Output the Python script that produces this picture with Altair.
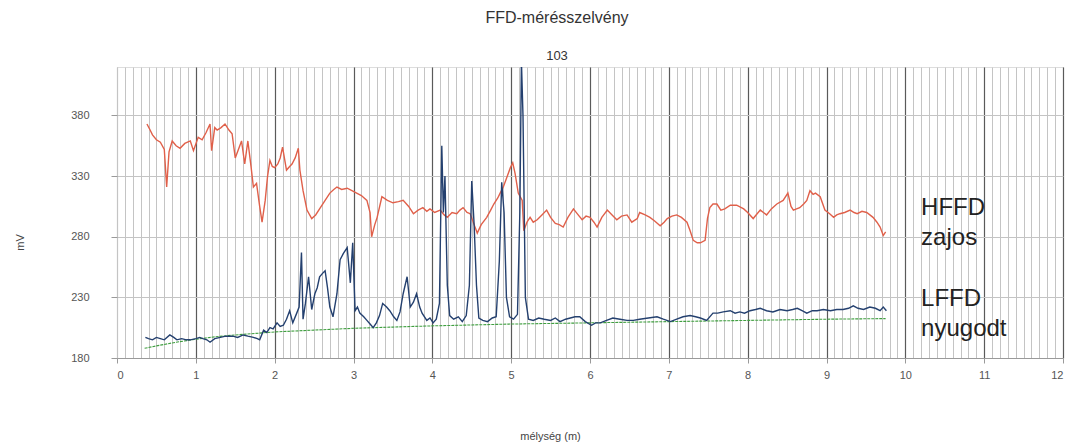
import altair as alt
import pandas as pd

# HFFD (noisy) series
hffd_x = [0.38, 0.42, 0.45, 0.5, 0.55, 0.6, 0.63, 0.66, 0.7, 0.75, 0.8, 0.86, 0.93, 0.97, 1.03, 1.08, 1.13, 1.18, 1.2, 1.24,
          1.27, 1.32, 1.37, 1.42, 1.46, 1.5, 1.54, 1.58, 1.62, 1.66, 1.7, 1.73, 1.77, 1.81, 1.84, 1.88, 1.91, 1.94, 1.97, 2.0,
          2.04, 2.07, 2.1, 2.15, 2.19, 2.22, 2.26, 2.3, 2.32, 2.36, 2.41, 2.47, 2.52, 2.58, 2.64, 2.7, 2.75, 2.79, 2.85, 2.92,
          2.98, 3.04, 3.1, 3.17, 3.21, 3.23, 3.27, 3.3, 3.36, 3.43, 3.5, 3.57, 3.63, 3.7, 3.76, 3.82, 3.88, 3.93, 3.97, 4.03,
          4.1, 4.15, 4.19, 4.25, 4.31, 4.35, 4.39, 4.44, 4.48, 4.53, 4.57, 4.62, 4.69, 4.74, 4.78, 4.83, 4.86, 4.9, 4.94, 4.99,
          5.02, 5.05, 5.09, 5.14, 5.16, 5.2, 5.24, 5.28, 5.33, 5.39, 5.45, 5.5, 5.56, 5.61, 5.66, 5.72, 5.79, 5.85, 5.9, 5.95,
          6.0, 6.05, 6.09, 6.15, 6.22, 6.28, 6.34, 6.4, 6.47, 6.53, 6.6, 6.63, 6.7, 6.76, 6.82, 6.89, 6.94, 6.98, 7.04, 7.1,
          7.16, 7.23, 7.27, 7.31, 7.36, 7.4, 7.46, 7.49, 7.52, 7.56, 7.61, 7.66, 7.71, 7.78, 7.86, 7.95, 8.0, 8.07, 8.12, 8.16,
          8.2, 8.24, 8.3, 8.37, 8.45, 8.51, 8.55, 8.58, 8.62, 8.66, 8.71, 8.75, 8.79, 8.83, 8.86, 8.92, 8.98, 9.04, 9.09, 9.13,
          9.17, 9.23, 9.3, 9.35, 9.39, 9.45, 9.51, 9.55, 9.59, 9.64, 9.68, 9.72, 9.75]
hffd_v = [373, 368, 364, 360, 358, 352, 321, 350, 359, 355, 353, 357, 359, 351, 362, 360, 366, 373, 351, 370,
          368, 370, 373, 368, 365, 345, 352, 359, 340, 359, 338, 321, 324, 305, 292, 310, 330, 343, 338, 337,
          340, 345, 354, 335, 338, 340, 345, 353, 335, 318, 302, 295, 298, 304, 310, 316, 319, 321, 319, 320,
          318, 316, 314, 310, 300, 280, 290, 296, 313, 310, 308, 309, 310, 305, 299, 302, 304, 301, 303, 300,
          302, 298, 296, 300, 299, 302, 304, 300, 299, 290, 283, 290, 296, 302, 307, 312, 316, 321, 328, 337,
          341, 332, 316, 310, 285, 292, 296, 292, 294, 298, 302, 296, 291, 290, 288, 296, 303, 298, 294, 297,
          296, 292, 288, 296, 302, 298, 294, 297, 298, 292, 295, 300, 298, 296, 293, 289, 292, 295, 297, 298,
          296, 292, 285, 277, 275, 275, 277, 295, 304, 307, 307, 302, 303, 306, 306, 303, 300, 295, 299, 302,
          300, 298, 303, 307, 310, 316, 305, 302, 303, 304, 307, 310, 318, 315, 316, 313, 302, 299, 296, 298,
          299, 300, 302, 300, 299, 301, 300, 298, 296, 292, 288, 281, 284]

# LFFD (calm) series
lffd_x = [0.36, 0.4, 0.45, 0.5, 0.55, 0.6, 0.67, 0.72, 0.76, 0.82, 0.88, 0.93, 1.0, 1.05, 1.09, 1.14, 1.18, 1.24, 1.31, 1.38,
          1.47, 1.53, 1.6, 1.66, 1.73, 1.78, 1.81, 1.86, 1.9, 1.94, 1.98, 2.03, 2.07, 2.11, 2.15, 2.19, 2.23, 2.28, 2.31, 2.34,
          2.36, 2.39, 2.43, 2.47, 2.51, 2.54, 2.57, 2.61, 2.64, 2.67, 2.7, 2.74, 2.79, 2.83, 2.87, 2.92, 2.96, 2.99, 3.02, 3.05,
          3.08, 3.13, 3.17, 3.21, 3.25, 3.29, 3.33, 3.37, 3.42, 3.46, 3.51, 3.55, 3.59, 3.63, 3.68, 3.72, 3.76, 3.8, 3.84, 3.87,
          3.93, 3.97, 4.01, 4.05, 4.09, 4.12, 4.14, 4.16, 4.19, 4.22, 4.27, 4.33, 4.38, 4.43, 4.47, 4.5, 4.53, 4.56, 4.59, 4.64,
          4.7, 4.76, 4.81, 4.85, 4.88, 4.91, 4.94, 4.98, 5.03, 5.08, 5.11, 5.13, 5.15, 5.18, 5.22, 5.28, 5.35, 5.42, 5.5, 5.56,
          5.62, 5.69, 5.75, 5.81, 5.87, 5.94, 6.02, 6.07, 6.13, 6.21, 6.29, 6.38, 6.47, 6.55, 6.63, 6.74, 6.85, 6.93, 7.02, 7.1,
          7.18, 7.27, 7.34, 7.4, 7.48, 7.56, 7.62, 7.69, 7.78, 7.84, 7.9, 7.96, 8.03, 8.1, 8.16, 8.24, 8.32, 8.41, 8.5, 8.57,
          8.63, 8.69, 8.75, 8.82, 8.88, 8.96, 9.05, 9.13, 9.21, 9.28, 9.34, 9.4, 9.47, 9.55, 9.62, 9.68, 9.72, 9.76]
lffd_v = [197, 196, 195, 197, 196, 195, 199, 197, 195, 196, 195, 195, 196, 197, 196, 195, 193, 196, 197, 198,
          198, 197, 199, 198, 197, 196, 195, 203, 201, 205, 204, 209, 206, 207, 212, 219, 209, 217, 222, 267,
          212, 225, 247, 220, 233, 238, 247, 250, 252, 238, 222, 214, 233, 261, 266, 271, 242, 275, 219, 222,
          217, 214, 211, 208, 205, 209, 215, 225, 222, 219, 214, 211, 218, 233, 247, 222, 226, 233, 222, 217,
          211, 213, 209, 212, 225, 355, 300, 330, 240, 215, 212, 214, 210, 215, 240, 326, 290, 240, 213, 211,
          210, 213, 214, 260, 325, 300, 230, 214, 212, 216, 300, 425, 380, 230, 212, 211, 213, 212, 211, 213,
          210, 212, 213, 214, 214, 210, 207, 209, 209, 211, 213, 212, 211, 211, 212, 213, 214, 212, 210, 212,
          214, 215, 214, 213, 211, 217, 217, 218, 219, 217, 218, 217, 219, 220, 221, 219, 218, 220, 219, 220,
          221, 219, 217, 219, 219, 220, 219, 220, 220, 221, 223, 221, 220, 222, 221, 219, 222, 219]

# Trend (baseline) line
trend_x = [0.35, 0.5, 0.75, 1.0, 1.25, 1.5, 2.0, 2.5, 3.0, 3.5, 4.0, 5.0, 6.0, 7.0, 8.0, 9.0, 9.75]
trend_v = [188, 190, 193, 195.5, 197.5, 199, 201.5, 203, 204.5, 205.5, 206.5, 208, 209, 210, 211, 212, 212.5]

# Annotation texts
note_text = ["HFFD\nzajos", "LFFD\nnyugodt"]
note_x = [10.2, 10.2]
note_v = [304, 229]

x_labels = list(range(0, 13))
y_labels = [180, 230, 280, 330, 380]
minor_ticks = [round(i * 0.1, 1) for i in range(0, 121)]

hffd = pd.DataFrame({"x": hffd_x, "v": hffd_v})
lffd = pd.DataFrame({"x": lffd_x, "v": lffd_v})
trend = pd.DataFrame({"x": trend_x, "v": trend_v})
notes = pd.DataFrame({"x": note_x, "v": note_v, "t": note_text})

FONT = "Liberation Sans Narrow, Liberation Sans, Arial, sans-serif"
xscale = alt.Scale(domain=[0, 12], nice=False, zero=False)
yscale = alt.Scale(domain=[180, 420], nice=False, zero=False)

minor_axis = alt.Axis(orient="top", values=minor_ticks, grid=True, gridColor="#c4c4c4", gridWidth=1,
                      labels=False, ticks=False, domain=False, title=None)
major_axis = alt.Axis(values=x_labels, grid=True,
                      gridColor={"condition": {"test": "datum.value === 0", "value": "#c4c4c4"}, "value": "#5a5a5a"},
                      gridWidth=1.2, labelFont=FONT, labelFontSize=11, labelColor="#555555",
                      labelPadding=6, tickSize=5, tickColor="#9a9a9a", domainColor="#9a9a9a",
                      title="mélység (m)", titleFont=FONT, titleFontSize=11, titleFontWeight="normal",
                      titleColor="#444444", titleX=433, titleY=78, titleAlign="center", titleBaseline="middle")
y_axis = alt.Axis(values=y_labels, grid=True, gridColor="#c4c4c4", gridWidth=1, labelFont=FONT,
                  labelFontSize=11, labelColor="#555555", labelPadding=22, tickSize=6, tickColor="#9a9a9a",
                  domain=False, title="mV", titleFont=FONT, titleFontSize=11, titleFontWeight="normal",
                  titleColor="#444444", titleX=-97, titleY=175, titleAlign="center", titleBaseline="middle")

trend_line = alt.Chart(trend).mark_line(color="#3f9e3f", strokeWidth=1.1, strokeDash=[3, 1]).encode(
    x=alt.X("x:Q", scale=xscale, axis=minor_axis),
    y=alt.Y("v:Q", scale=yscale, axis=y_axis),
)
hffd_line = alt.Chart(hffd).mark_line(color="#e0604a", strokeWidth=1.4, clip=True).encode(
    x=alt.X("x:Q", scale=xscale, axis=major_axis),
    y=alt.Y("v:Q", scale=yscale, axis=y_axis),
)
lffd_line = alt.Chart(lffd).mark_line(color="#24406f", strokeWidth=1.4, clip=True).encode(
    x=alt.X("x:Q", scale=xscale, axis=None),
    y=alt.Y("v:Q", scale=yscale, axis=y_axis),
)
note_layer = alt.Chart(notes).mark_text(align="left", baseline="middle", fontSize=24, lineBreak="\n",
                                        lineHeight=30, font="Liberation Sans, Arial, sans-serif",
                                        color="#222222").encode(
    x=alt.X("x:Q", scale=xscale, axis=None),
    y=alt.Y("v:Q", scale=yscale, axis=y_axis),
    text="t:N",
)

chart = alt.layer(trend_line, hffd_line, lffd_line, note_layer).resolve_axis(x="independent").properties(
    width=946, height=291,
    autosize=alt.AutoSizeParams(type="none"),
    padding={"left": 117, "top": 67, "right": 8, "bottom": 88},
    title=alt.TitleParams(text="FFD-mérésszelvény", subtitle="103", fontSize=16, subtitleFontSize=13,
                          font="Liberation Sans, Arial, sans-serif", subtitleFont="Liberation Sans, Arial, sans-serif",
                          fontWeight="normal", color="#333333", subtitleColor="#333333",
                          anchor="middle", dx=-33, offset=4, subtitlePadding=24),
).configure_view(stroke="#c4c4c4", strokeWidth=1).configure(background="white")

chart.save("out.html", embed_options={"renderer": "svg", "actions": False})
